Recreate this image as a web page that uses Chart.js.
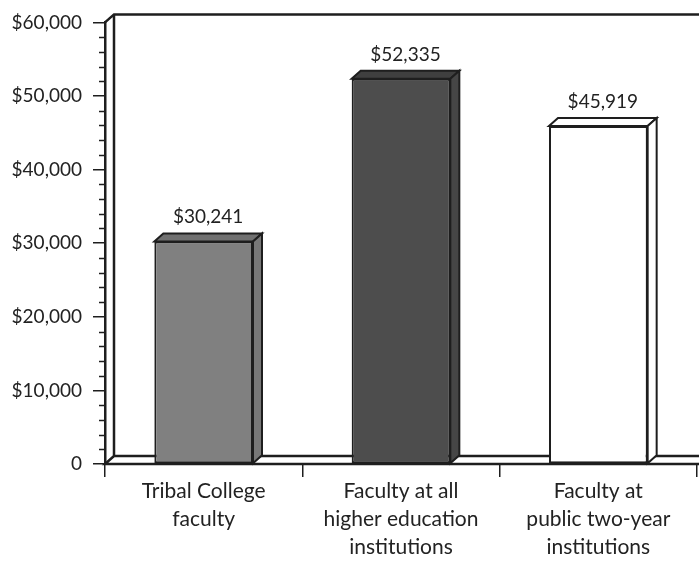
<!DOCTYPE html>
<html>
<head>
<meta charset="utf-8">
<script src="https://cdn.jsdelivr.net/npm/chart.js@4"></script>
<style>
  html, body { margin: 0; padding: 0; background: #fff; }
  #wrap { width: 699px; height: 567px; position: relative; }
</style>
</head>
<body>
<div id="wrap"><canvas id="salaryChart"></canvas></div>
<script>
const categories = [
    ['Tribal College', 'faculty'],
    ['Faculty at all', 'higher education', 'institutions'],
    ['Faculty at', 'public two-year', 'institutions']
];
const salaries = [30241, 52335, 45919];
const valueLabels = ['$30,241', '$52,335', '$45,919'];
const yTickLabels = ['0', '$10,000', '$20,000', '$30,000', '$40,000', '$50,000', '$60,000'];

const frontColors = ['#808080', '#4d4d4d', '#ffffff'];
const topColors = ['#707070', '#3f3f3f', '#ffffff'];
const sideColors = ['#787878', '#464646', '#ffffff'];

const INK = '#1e1e1e';
const DX = 9, DY = 8;   // depth offset of the 3D look
const FONT = 'Lato, "Open Sans", sans-serif';

// back wall, floor and minor ticks behind the bars
const wallPlugin = {
    id: 'wall',
    beforeDatasetsDraw(chart) {
        const { ctx, chartArea: a, scales } = chart;
        const W = chart.width;
        ctx.save();
        ctx.strokeStyle = INK;
        ctx.lineWidth = 2.5;
        ctx.beginPath();
        ctx.moveTo(a.left, a.top);
        ctx.lineTo(a.left + DX, a.top - DY);
        ctx.lineTo(W, a.top - DY);
        ctx.moveTo(a.left + DX, a.top - DY);
        ctx.lineTo(a.left + DX, a.bottom - DY);
        ctx.lineTo(W, a.bottom - DY);
        ctx.moveTo(a.left + DX, a.bottom - DY);
        ctx.lineTo(a.left, a.bottom);
        ctx.lineTo(W, a.bottom);
        ctx.stroke();

        // minor ticks every 2,000
        const y = scales.y;
        ctx.lineWidth = 1.5;
        ctx.beginPath();
        for (let v = 2000; v < 60000; v += 2000) {
            if (v % 10000 === 0) continue;
            const py = Math.round(y.getPixelForValue(v)) + 0.5;
            ctx.moveTo(a.left - 6, py);
            ctx.lineTo(a.left, py);
        }
        ctx.stroke();
        ctx.restore();
    },
    afterDatasetsDraw(chart) {
        const { ctx } = chart;
        const meta = chart.getDatasetMeta(0);
        ctx.save();
        ctx.strokeStyle = INK;
        ctx.lineWidth = 2;
        ctx.lineJoin = 'miter';
        meta.data.forEach((bar, i) => {
            const { x, y, base, width } = bar.getProps(['x', 'y', 'base', 'width'], true);
            const l = x - width / 2, r = x + width / 2;
            // top face
            ctx.fillStyle = topColors[i];
            ctx.beginPath();
            ctx.moveTo(l, y);
            ctx.lineTo(l + DX, y - DY);
            ctx.lineTo(r + DX, y - DY);
            ctx.lineTo(r, y);
            ctx.closePath();
            ctx.fill();
            ctx.stroke();
            // side face
            ctx.fillStyle = sideColors[i];
            ctx.beginPath();
            ctx.moveTo(r, y);
            ctx.lineTo(r + DX, y - DY);
            ctx.lineTo(r + DX, base - DY);
            ctx.lineTo(r, base);
            ctx.closePath();
            ctx.fill();
            ctx.stroke();

            // value label
            ctx.fillStyle = '#222';
            ctx.font = '19px ' + FONT;
            ctx.textAlign = 'center';
            ctx.textBaseline = 'alphabetic';
            ctx.fillText(valueLabels[i], x + DX / 2, y - DY - 10);
        });
        ctx.restore();
    }
};

new Chart(document.getElementById('salaryChart'), {
    type: 'bar',
    data: {
        labels: categories,
        datasets: [{
            data: salaries,
            backgroundColor: frontColors,
            borderColor: INK,
            borderWidth: 2,
            borderSkipped: false,
            categoryPercentage: 1,
            barPercentage: 0.5
        }]
    },
    options: {
        responsive: true,
        maintainAspectRatio: false,
        animation: false,
        layout: { padding: { top: 21, right: 2, left: 0, bottom: 0 } },
        plugins: {
            legend: { display: false },
            tooltip: { enabled: false }
        },
        scales: {
            x: {
                afterFit: s => { s.height = 103; },
                border: { display: false },
                grid: {
                    offset: true,
                    drawOnChartArea: false,
                    tickLength: 13,
                    tickColor: INK,
                    lineWidth: 1.5
                },
                ticks: {
                    color: '#222',
                    padding: 0,
                    maxRotation: 0,
                    font: { family: FONT, size: 21, lineHeight: 28 / 21 }
                }
            },
            y: {
                min: 0,
                max: 60000,
                afterFit: s => { s.width = 105; },
                border: { display: true, color: INK, width: 2.5 },
                grid: {
                    drawOnChartArea: false,
                    tickLength: 12,
                    tickColor: INK,
                    lineWidth: 1.5
                },
                ticks: {
                    stepSize: 10000,
                    color: '#222',
                    padding: 11,
                    font: { family: FONT, size: 19 },
                    callback: (v, i) => yTickLabels[i]
                }
            }
        }
    },
    plugins: [wallPlugin]
});
</script>
</body>
</html>
